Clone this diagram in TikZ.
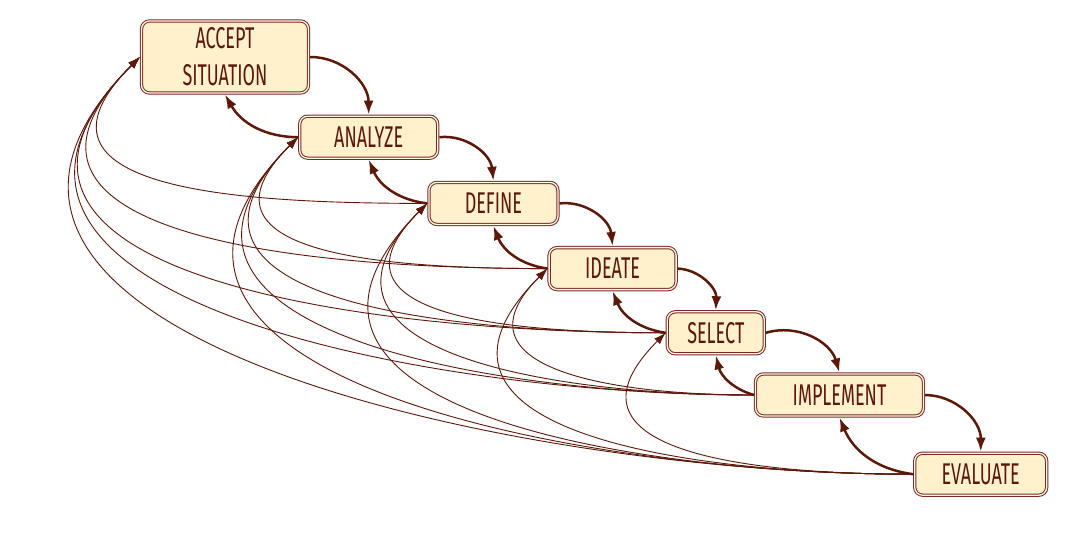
\documentclass[tikz,border=0pt]{standalone}
\usepackage{fontspec}
\newfontfamily\stagefont[FakeStretch=0.6]{Fira Sans}
\usepackage{tikz}
\usetikzlibrary{arrows.meta, positioning}

\definecolor{maroon}{HTML}{5C1809}
\definecolor{rim}{HTML}{7A2A1E}
\definecolor{cream}{HTML}{FFF1CC}
\definecolor{paper}{HTML}{FFF9EC}

\begin{document}
\begin{tikzpicture} [
    x=1pt, y=1pt,
    node distance=20pt and -12pt,
    stage/.style={rectangle, draw=rim, line width=1pt, double=paper, double distance=1.3pt, outer sep=1.6pt, fill=cream, rounded corners=8pt, minimum height=42pt, inner sep=2pt, text=maroon, align=center, font=\stagefont\fontsize{30pt}{37pt}\selectfont},
    fwd/.style={draw=maroon, line width=2.5pt, -{Latex[length=14pt, width=10pt]}, bend left=45},
    back/.style={draw=maroon, line width=2.5pt, -{Latex[length=14pt, width=10pt]}, bend left=30},
    link/.style={draw=maroon, line width=0.9pt, -{Latex[length=12pt, width=8pt]}, out=180, in=225}
]
    \useasboundingbox (0,0) rectangle (1091,-536);

    % Nodes
    \node[stage, minimum width=167pt, minimum height=72pt] (accept) at (225,-57) {ACCEPT\\SITUATION};
    \node[stage, minimum width=138pt, below right=of accept] (analyze) {ANALYZE};
    \node[stage, minimum width=129pt, below right=21pt and -12pt of analyze] (define) {DEFINE};
    \node[stage, minimum width=127pt, below right=of define] (ideate) {IDEATE};
    \node[stage, minimum width=97pt, below right=19pt and -12pt of ideate] (select) {SELECT};
    \node[stage, minimum width=168pt, below right=17pt and -12pt of select] (implement) {IMPLEMENT};
    \node[stage, minimum width=132pt, below right=34pt and -12pt of implement] (evaluate) {EVALUATE};

    % Arrows
    \foreach \src/\dst in {accept/analyze, analyze/define, define/ideate, ideate/select, select/implement, implement/evaluate} {
        \draw[fwd] (\src.east) to (\dst.north);
        \draw[back] (\dst.west) to (\src.south);
    }

    % Long way back
    \foreach \src/\dst/\lse in {define/accept/1.5, ideate/accept/1.4, select/accept/1.32, implement/accept/1.23, evaluate/accept/1.15,
        ideate/analyze/1.5, select/analyze/1.4, implement/analyze/1.32, evaluate/analyze/1.23,
        select/define/1.5, implement/define/1.4, evaluate/define/1.32,
        implement/ideate/1.5, evaluate/ideate/1.4,
        evaluate/select/1.5}
        \draw[link, looseness=\lse] (\src.west) to (\dst.west);

\end{tikzpicture}
\end{document}
